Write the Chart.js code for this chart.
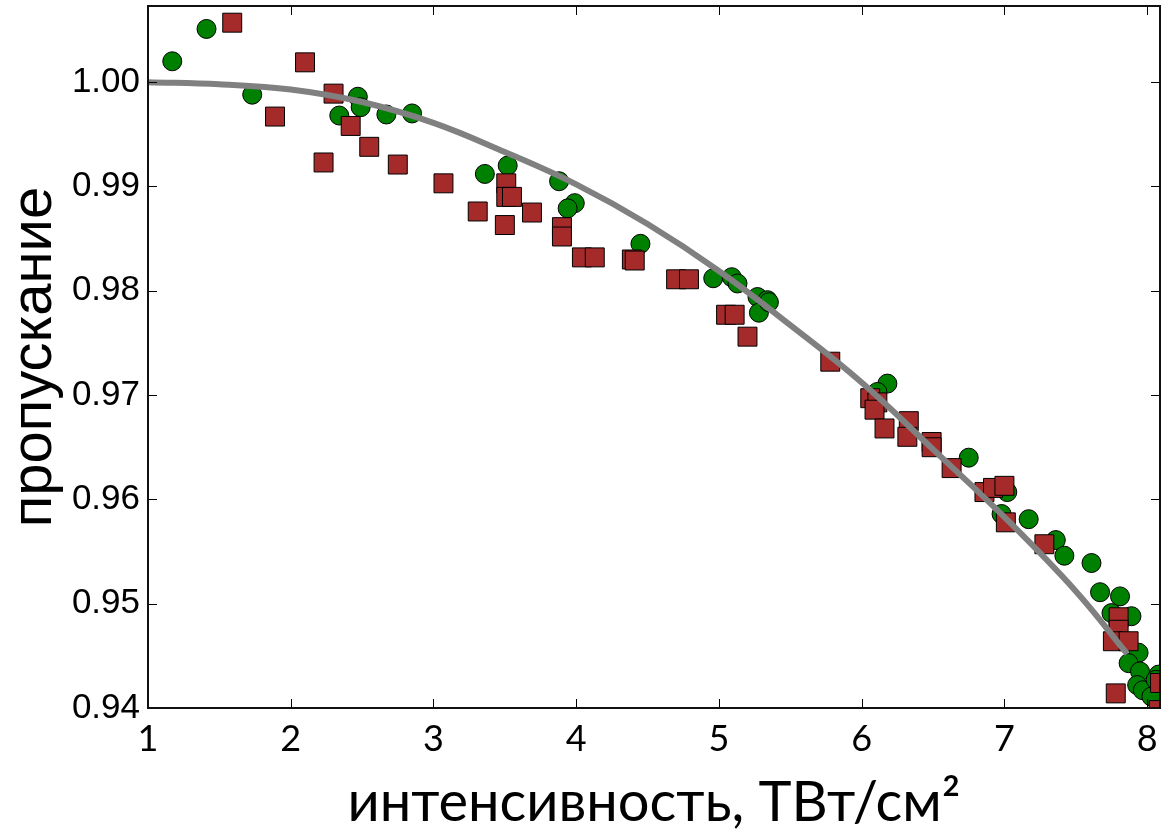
<!DOCTYPE html>
<html>
<head>
<meta charset="utf-8">
<script src="https://cdn.jsdelivr.net/npm/chart.js@4.4.0/dist/chart.umd.min.js"></script>
<style>
  body { margin: 0; background: #fff; }
  canvas { display: block; }
</style>
</head>
<body>
<canvas id="myChart" width="1164" height="834"></canvas>
<script>
// green circles
const greenX = [1.17, 1.41, 1.73, 2.34, 2.47, 2.49, 2.67, 2.85, 3.36, 3.52, 3.88, 3.99, 3.94, 4.45,
  4.96, 5.09, 5.13, 5.27, 5.34, 5.28, 5.35, 6.18, 6.11, 6.75, 7.02, 6.98, 7.17, 7.36, 7.42, 7.61,
  7.67, 7.81, 7.75, 7.89, 7.94, 7.87, 7.95, 7.93, 7.97, 8.03, 8.08, 8.06];
const greenY = [1.0020, 1.0051, 0.9988, 0.9968, 0.9986, 0.9976, 0.9969, 0.9970, 0.9912, 0.9920, 0.9905, 0.9884, 0.9879, 0.9845,
  0.9812, 0.9813, 0.9807, 0.9794, 0.9791, 0.9779, 0.9789, 0.9711, 0.9703, 0.9640, 0.9607, 0.9586, 0.9581, 0.9561, 0.9546, 0.9539,
  0.9511, 0.9507, 0.9491, 0.9488, 0.9453, 0.9443, 0.9435, 0.9422, 0.9417, 0.9411, 0.9432, 0.9427];

// red squares
const redX = [1.59, 2.10, 1.89, 2.23, 2.30, 2.42, 2.55, 2.75, 3.07, 3.31, 3.51, 3.51, 3.55, 3.50, 3.69,
  3.90, 3.90, 4.04, 4.13, 4.39, 4.41, 4.70, 4.79, 5.05, 5.11, 5.20, 5.78, 6.06, 6.11, 6.09, 6.16,
  6.33, 6.32, 6.49, 6.49, 6.63, 6.86, 6.92, 7.00, 7.01, 7.28, 7.80, 7.80, 7.76, 7.87, 7.78, 8.09, 8.08];
const redY = [1.0057, 1.0019, 0.9967, 0.9923, 0.9989, 0.9958, 0.9938, 0.9921, 0.9903, 0.9876, 0.9903, 0.9890, 0.9890, 0.9863, 0.9875,
  0.9861, 0.9852, 0.9832, 0.9832, 0.9830, 0.9829, 0.9811, 0.9811, 0.9777, 0.9777, 0.9756, 0.9732, 0.9697, 0.9693, 0.9686, 0.9668,
  0.9675, 0.9660, 0.9655, 0.9650, 0.9630, 0.9607, 0.9611, 0.9613, 0.9578, 0.9557, 0.9487, 0.9475, 0.9464, 0.9464, 0.9414, 0.9424, 0.9398];

// grey fit curve
const fitX = [1.0, 1.5, 2.0, 2.5, 3.0, 3.5, 4.0, 4.5, 5.0, 5.5, 6.0, 6.5, 7.0, 7.5, 7.86];
const fitY = [1.0000, 0.9998, 0.9993, 0.9981, 0.9961, 0.9933, 0.9902, 0.9864, 0.9819, 0.9767, 0.9712, 0.9648, 0.9583, 0.9512, 0.9452];

const xTicks = [1, 2, 3, 4, 5, 6, 7, 8];
const yTicks = [0.94, 0.95, 0.96, 0.97, 0.98, 0.99, 1.00];

const pts = (xs, ys) => xs.map((x, i) => ({x: x, y: ys[i]}));

// black frame + inward ticks on all four sides
const frame = {
  id: 'frame',
  afterDraw(chart) {
    const {ctx, chartArea: a, scales} = chart;
    ctx.save();
    ctx.strokeStyle = '#000';
    ctx.lineWidth = 1;
    ctx.beginPath();
    xTicks.forEach(v => {
      const px = Math.round(scales.x.getPixelForValue(v)) + 0.5;
      ctx.moveTo(px, a.bottom); ctx.lineTo(px, a.bottom - 9);
      ctx.moveTo(px, a.top); ctx.lineTo(px, a.top + 9);
    });
    yTicks.forEach(v => {
      const py = Math.round(scales.y.getPixelForValue(v)) + 0.5;
      ctx.moveTo(a.left, py); ctx.lineTo(a.left + 9, py);
      ctx.moveTo(a.right, py); ctx.lineTo(a.right - 9, py);
    });
    ctx.stroke();
    ctx.lineWidth = 2;
    ctx.strokeStyle = '#111';
    ctx.strokeRect(a.left, a.top, a.right - a.left, a.bottom - a.top);
    ctx.restore();
  }
};

const ctx = document.getElementById('myChart').getContext('2d');
const myChart = new Chart(ctx, {
  type: 'scatter',
  data: {
    datasets: [
      {
        type: 'line',
        data: pts(fitX, fitY),
        borderColor: '#808080',
        borderWidth: 6,
        pointRadius: 0,
        tension: 0.4,
        fill: false,
        clip: 0,
        order: 0
      },
      {
        data: pts(redX, redY),
        pointStyle: 'rect',
        pointRadius: 13.4,
        backgroundColor: '#a52a2a',
        borderColor: '#000',
        borderWidth: 1,
        clip: 0,
        order: 1
      },
      {
        data: pts(greenX, greenY),
        pointStyle: 'circle',
        pointRadius: 9.5,
        backgroundColor: '#008000',
        borderColor: '#000',
        borderWidth: 1,
        clip: 0,
        order: 2
      }
    ]
  },
  options: {
    responsive: false,
    animation: false,
    events: [],
    layout: { autoPadding: false, padding: { top: 6, right: 4, left: 0, bottom: 0 } },
    plugins: { legend: { display: false }, tooltip: { enabled: false } },
    scales: {
      x: {
        type: 'linear',
        min: 1,
        max: 8.09,
        afterFit(scale) { scale.height = 126; scale.paddingRight = 0; },
        afterBuildTicks(scale) { scale.ticks = xTicks.map(v => ({value: v})); },
        grid: { display: false, drawTicks: false },
        border: { display: false },
        ticks: {
          padding: 10,
          color: '#000',
          font: { family: 'Lato, sans-serif', size: 36 },
          maxRotation: 0,
          autoSkip: false
        },
        title: {
          display: true,
          text: 'интенсивность, ТВт/см²',
          color: '#000',
          font: { family: 'Lato, sans-serif', size: 56, lineHeight: 1.1 },
          padding: { top: 0, bottom: 0 }
        }
      },
      y: {
        type: 'linear',
        min: 0.94,
        max: 1.0073,
        afterFit(scale) { scale.width = 148; scale.paddingTop = 0; scale.paddingBottom = 0; },
        afterBuildTicks(scale) { scale.ticks = yTicks.map(v => ({value: v})); },
        grid: { display: false, drawTicks: false },
        border: { display: false },
        ticks: {
          padding: 8,
          color: '#000',
          font: { family: '"Liberation Sans", Arial, sans-serif', size: 35 },
          callback: v => v.toFixed(2)
        },
        title: {
          display: true,
          text: 'пропускание',
          color: '#000',
          font: { family: '"Liberation Sans", Arial, sans-serif', size: 58 },
          padding: { top: 0, bottom: 0 }
        }
      }
    }
  },
  plugins: [frame]
});
</script>
</body>
</html>
